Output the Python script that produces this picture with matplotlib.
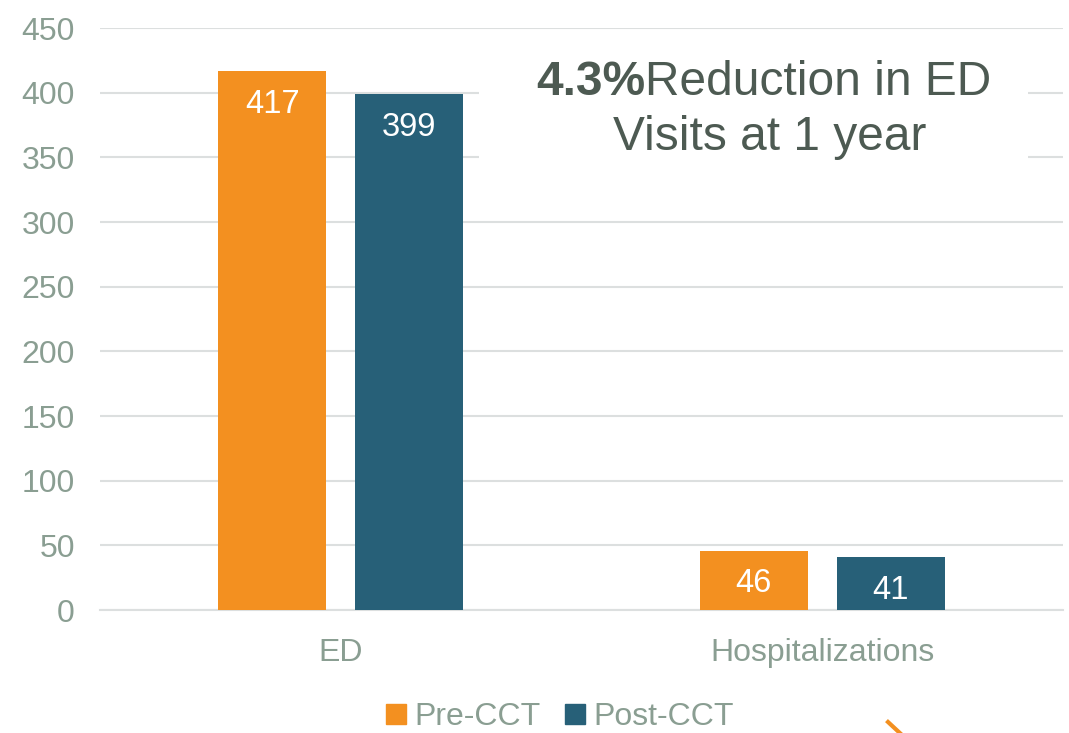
import matplotlib.pyplot as plt
import numpy as np
from matplotlib.lines import Line2D
from matplotlib.patches import Rectangle

categories = ["ED", "Hospitalizations"]
pre_cct = [417, 46]
post_cct = [399, 41]
series_names = ["Pre-CCT", "Post-CCT"]
headline_pct = "4.3%"
headline_rest = "Reduction in ED"
headline_line2 = "Visits at 1 year"

ORANGE = "#F39020"
TEAL = "#276078"
TICK_COLOR = "#8A9E92"
NOTE_COLOR = "#4D5A52"
GRID_COLOR = "#DCDFDF"


def main() -> None:
    plt.rcParams["font.family"] = ["Liberation Sans", "DejaVu Sans"]

    fig = plt.figure(figsize=(10.69, 7.33), dpi=100)
    ax = fig.add_axes([0.0935, 0.1678, 0.9009, 0.794])

    x = np.arange(len(categories))
    width = 0.224
    offset = 0.142

    bars_pre = ax.bar(x - offset, pre_cct, width, color=ORANGE, zorder=3)
    bars_post = ax.bar(x + offset, post_cct, width, color=TEAL, zorder=3)

    # value labels inside the top of each bar
    for bars in (bars_pre, bars_post):
        for b in bars:
            ax.annotate(f"{b.get_height():g}", (b.get_x() + b.get_width() / 2, b.get_height()),
                        xytext=(0, -24), textcoords="offset points",
                        ha="center", va="center", color="white", fontsize=23.5, zorder=4)

    ax.set_xlim(-0.5, 1.5)
    ax.set_ylim(0, 450)
    ax.set_yticks(np.arange(0, 451, 50))
    ax.set_xticks(x)
    ax.set_xticklabels(categories)
    ax.tick_params(axis="both", length=0, labelsize=23, labelcolor=TICK_COLOR)
    ax.tick_params(axis="x", pad=20)
    ax.tick_params(axis="y", pad=18)

    ax.grid(axis="y", color=GRID_COLOR, linewidth=1.5, zorder=0)
    ax.set_axisbelow(True)
    for side in ("top", "right", "left"):
        ax.spines[side].set_visible(False)
    ax.spines["bottom"].set_color(GRID_COLOR)
    ax.spines["bottom"].set_linewidth(1.5)

    # white panel behind the headline
    ax.add_patch(Rectangle((0.394, 0.70), 0.57, 0.28, transform=ax.transAxes,
                           facecolor="white", edgecolor="none", zorder=2))
    ax.text(0.632, 408, headline_pct, ha="right", va="center", fontsize=34.5,
            fontweight="bold", color=NOTE_COLOR, zorder=5)
    ax.text(0.632, 408, headline_rest, ha="left", va="center", fontsize=34.5,
            color=NOTE_COLOR, zorder=5)
    ax.text(0.891, 365, headline_line2, ha="center", va="center", fontsize=34.5,
            color=NOTE_COLOR, zorder=5)

    handles = [Line2D([], [], marker="s", linestyle="none", markersize=14,
                      markerfacecolor=c, markeredgecolor=c) for c in (ORANGE, TEAL)]
    leg = fig.legend(handles, series_names, loc="center", bbox_to_anchor=(0.521, 0.022),
                     ncol=2, frameon=False, fontsize=23, handletextpad=0.05,
                     columnspacing=0.6, handlelength=1.0)
    for t in leg.get_texts():
        t.set_color(TICK_COLOR)

    # small orange stroke near the bottom edge
    fig.add_artist(Line2D([888 / 1069, 902 / 1069], [1 - 722 / 733, 1 - 735 / 733],
                          color=ORANGE, linewidth=3, transform=fig.transFigure))

    fig.savefig("out.png", dpi=100)


if __name__ == "__main__":
    main()
